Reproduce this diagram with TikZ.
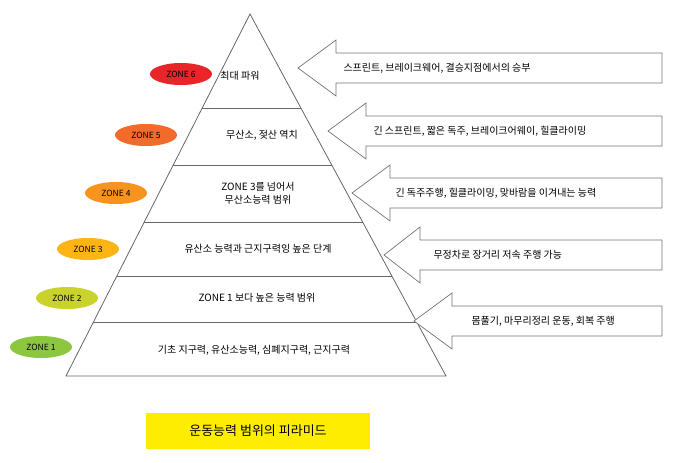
\documentclass[tikz,border=0pt]{standalone}
\usepackage{fontspec}
\setmainfont{Noto Sans CJK KR}
\usetikzlibrary{shapes.geometric,calc}
\definecolor{z6c}{HTML}{E8262A}
\definecolor{z5c}{HTML}{F26B2A}
\definecolor{z4c}{HTML}{F7941D}
\definecolor{z3c}{HTML}{FDB515}
\definecolor{z2c}{HTML}{C9D32C}
\definecolor{z1c}{HTML}{8DC63F}
\begin{document}
\begin{tikzpicture}[x=1pt,y=-1pt,
  line/.style={draw=black!60,line width=0.8pt},
  zone/.style={ellipse,minimum width=62pt,minimum height=22pt,inner sep=0pt,font=\fontsize{8.5}{10}\selectfont},
  lbl/.style={font=\fontsize{10}{13}\selectfont,align=center},
  arr/.style={draw=black!55,fill=white,line width=0.7pt,line join=miter}]
\useasboundingbox (0,0) rectangle (680,463);
\coordinate (A) at (250,14);
\coordinate (BL) at (66,376);
\coordinate (BR) at (446,376);
\draw[line] (A) -- (BL) -- (BR) -- cycle;
\foreach \f in {0.26,0.417,0.575,0.724,0.851}
  \draw[line] ($(A)!\f!(BL)$) -- ($(A)!\f!(BR)$);
\node[lbl] (t6) at (240,76) {최대 파워};
\node[lbl] (t5) at (262,135) {무산소, 젖산 역치};
\node[lbl] (t4) at (258,193) {ZONE 3를 넘어서\\무산소능력 범위};
\node[lbl] (t3) at (258,249) {유산소 능력과 근지구력잉 높은 단계};
\node[lbl] (t2) at (257,298) {ZONE 1 보다 높은 능력 범위};
\node[lbl] (t1) at (254,350) {기초 지구력, 유산소능력, 심폐지구력, 근지구력};
\node[zone,fill=z6c] (z6) at (181,74) {ZONE 6};
\node[zone,fill=z5c] (z5) at (146,135) {ZONE 5};
\node[zone,fill=z4c] (z4) at (116,193) {ZONE 4};
\node[zone,fill=z3c] (z3) at (88,249) {ZONE 3};
\node[zone,fill=z2c] (z2) at (67,298) {ZONE 2};
\node[zone,fill=z1c] (z1) at (41,347) {ZONE 1};
\foreach \tx/\cy/\hx in {298/68/336, 328/131/366, 352/193/390, 384/255/420, 414/321/452}{
  \draw[arr] (\tx,\cy) -- (\hx,\cy-28) -- (\hx,\cy-15) -- (662,\cy-15) -- (662,\cy+15) -- (\hx,\cy+15) -- (\hx,\cy+28) -- cycle;
}
\node[lbl,anchor=west] (s6) at (340,68) {스프린트, 브레이크웨어, 결승지점에서의 승부};
\node[lbl,anchor=west] (s5) at (370,131) {긴 스프린트, 짧은 독주, 브레이크어웨이, 힐클라이밍};
\node[lbl,anchor=west] (s4) at (392,193) {긴 독주주행, 힐클라이밍, 맞바람을 이겨내는 능력};
\node[lbl,anchor=west] (s3) at (430,255) {무정차로 장거리 저속 주행 가능};
\node[lbl,anchor=west] (s2) at (468,321) {몸풀기, 마무리정리 운동, 회복 주행};
\node[fill=yellow!95!orange,minimum width=224pt,minimum height=36pt,font=\fontsize{13}{15}\selectfont] (title) at (258,431) {운동능력 범위의 피라미드};
\end{tikzpicture}
\end{document}
